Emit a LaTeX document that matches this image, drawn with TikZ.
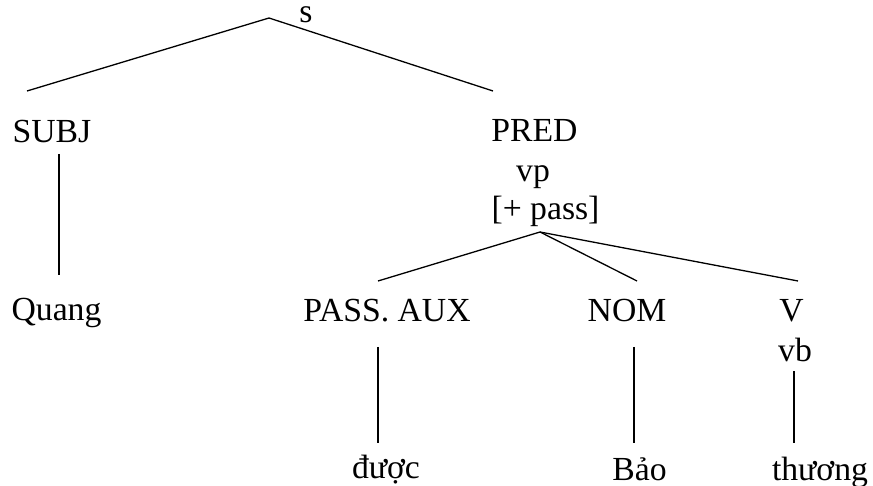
\documentclass[tikz,border=0pt]{standalone}
\usepackage{fontspec}
\setmainfont{Liberation Serif}
\usetikzlibrary{calc}
\begin{document}
\begin{tikzpicture}[x=1pt,y=-1pt,
  lbl/.style={inner sep=0pt, anchor=base, font=\fontsize{33.7}{39}\selectfont},
  branch/.style={line width=1.3pt}]
\useasboundingbox (0,0) rectangle (873,486);

% category labels and words (placed on their baselines)
\node[lbl] (s)     at (306,23)    {s};
\node[lbl] (subj)  at (52,143)    {SUBJ};
\node[lbl] (quang) at (56.5,321)  {Quang};
\node[lbl] (pred)  at (534.5,142) {PRED};
\node[lbl] (vp)    at (533,182)   {vp};
\node[lbl] (pass)  at (545.5,220) {[+ pass]};
\node[lbl] (aux)   at (387,322)   {PASS. AUX};
\node[lbl] (nom)   at (627,322)   {NOM};
\node[lbl] (verb)  at (791.5,322) {V};
\node[lbl] (vb)    at (795,362)   {vb};
\node[lbl] (duoc)  at (386,478)   {được};
\node[lbl] (bao)   at (639.5,480) {Bảo};
\node[lbl] (thuong) at (820,480)  {thương};

% branching points
\coordinate (sroot) at ($(s.base)+(-37,-5)$);
\coordinate (vproot) at ($(pass.base)+(-5.5,12)$);

% s -> SUBJ, PRED
\draw[branch] (sroot) -- ($(subj.base)+(-25,-52)$);
\draw[branch] (sroot) -- ($(pred.base)+(-41.5,-51)$);

% SUBJ -> Quang
\draw[branch] ($(subj.base)+(7,11)$) -- ($(quang.base)+(2.5,-46)$);

% vp -> PASS. AUX, NOM, V
\draw[branch] (vproot) -- ($(aux.base)+(-9,-41)$);
\draw[branch] (vproot) -- ($(nom.base)+(10,-41)$);
\draw[branch] (vproot) -- ($(verb.base)+(6.5,-41)$);

% terminals
\draw[branch] ($(aux.base)+(-9,25)$) -- ($(duoc.base)+(-8,-35)$);
\draw[branch] ($(nom.base)+(7,25)$) -- ($(bao.base)+(-5.5,-37)$);
\draw[branch] ($(vb.base)+(-1,9)$) -- ($(thuong.base)+(-26,-37)$);
\end{tikzpicture}
\end{document}
